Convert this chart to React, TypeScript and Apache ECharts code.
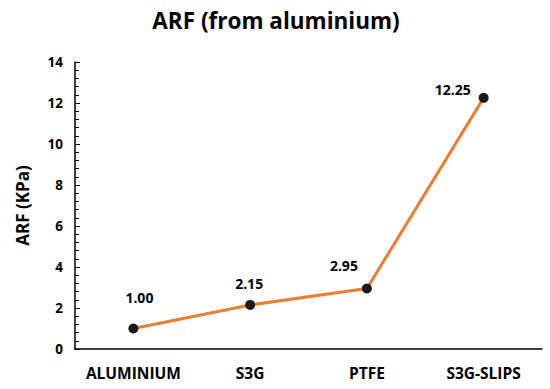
import React, { useEffect, useRef } from "react";
import * as echarts from "echarts";

const categories = ["ALUMINIUM", "S3G", "PTFE", "S3G-SLIPS"];
const arfValues = [1.0, 2.15, 2.95, 12.25];
const labelOffsets: [number, number][] = [
  [6, -19],
  [-1, -9],
  [-23, -11],
  [-31, 4],
];

export default function App() {
  const ref = useRef<HTMLDivElement>(null);
  useEffect(() => {
    document.body.style.margin = "0";
    if (!ref.current) return;
    const chart = echarts.init(ref.current, undefined, { renderer: "svg" });
    const font = "'Open Sans', 'Liberation Sans', sans-serif";
    chart.setOption({
      animation: false,
      backgroundColor: "#ffffff",
      title: {
        text: "ARF (from aluminium)",
        left: 271,
        textAlign: "center",
        top: 4,
        textStyle: { fontFamily: font, fontWeight: "bold", fontSize: 22.5, color: "#000" },
      },
      grid: { left: 75, right: 8, top: 62, bottom: 40, containLabel: false },
      xAxis: {
        type: "category",
        data: categories,
        boundaryGap: true,
        axisLine: { lineStyle: { color: "#000", width: 1.5 } },
        axisTick: { inside: true, length: 5, lineStyle: { color: "#000" } },
        axisLabel: {
          interval: 0,
          hideOverlap: false,
          margin: 16,
          color: "#000",
          fontFamily: font,
          fontWeight: "bold",
          fontSize: 15.5,
        },
      },
      yAxis: {
        type: "value",
        min: 0,
        max: 14,
        interval: 2,
        name: "ARF (KPa)",
        nameLocation: "middle",
        nameGap: 44,
        nameTextStyle: { fontFamily: font, fontWeight: "bold", fontSize: 17, color: "#000" },
        axisLine: { show: true, lineStyle: { color: "#000", width: 1.5 } },
        axisTick: { show: true, inside: true, length: 5, lineStyle: { color: "#000" } },
        minorTick: { show: true, splitNumber: 5, length: 4, lineStyle: { color: "#000" } },
        splitLine: { show: false },
        axisLabel: {
          margin: 12,
          color: "#000",
          fontFamily: font,
          fontWeight: "bold",
          fontSize: 13.5,
        },
      },
      series: [
        {
          type: "line",
          data: arfValues.map((v, i) => ({
            value: v,
            label: { offset: labelOffsets[i] },
          })),
          symbol: "circle",
          symbolSize: 10,
          itemStyle: { color: "#1a1a1a" },
          lineStyle: { color: "#ED7D31", width: 3 },
          label: {
            show: true,
            position: "top",
            distance: 0,
            formatter: (p: any) => Number(p.value).toFixed(2),
            color: "#000",
            fontFamily: font,
            fontWeight: "bold",
            fontSize: 14,
          },
        },
      ],
    });
    return () => chart.dispose();
  }, []);
  return <div ref={ref} style={{ width: 550, height: 389 }} />;
}
